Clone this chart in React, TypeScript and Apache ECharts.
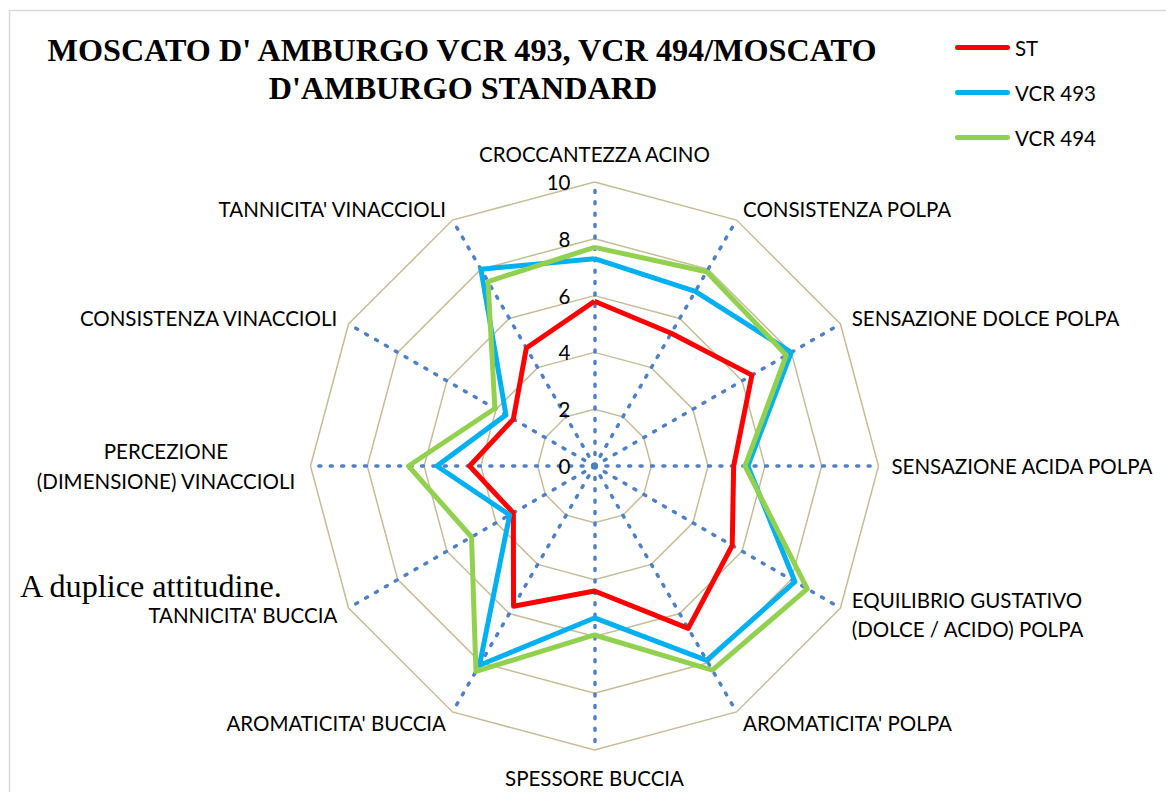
import React, { useEffect, useRef } from 'react';
import * as echarts from 'echarts';

// Axis categories, clockwise from the top (as in the reference)
const categories: string[] = [
  'CROCCANTEZZA ACINO',
  'CONSISTENZA POLPA',
  'SENSAZIONE DOLCE POLPA',
  'SENSAZIONE ACIDA POLPA',
  'EQUILIBRIO GUSTATIVO\n(DOLCE / ACIDO) POLPA',
  "AROMATICITA' POLPA",
  'SPESSORE BUCCIA',
  "AROMATICITA' BUCCIA",
  "TANNICITA' BUCCIA",
  'PERCEZIONE\n(DIMENSIONE) VINACCIOLI',
  'CONSISTENZA VINACCIOLI',
  "TANNICITA' VINACCIOLI",
];

const seriesNames: string[] = ['ST', 'VCR 493', 'VCR 494'];
const seriesColors: string[] = ['#ff0000', '#00b0f0', '#92d050'];

const stValues: number[] = [5.8, 5.4, 6.4, 4.9, 5.6, 6.6, 4.4, 5.7, 3.3, 4.4, 3.3, 4.8];
const vcr493Values: number[] = [7.3, 7.1, 8.0, 5.4, 8.15, 7.9, 5.35, 8.1, 3.45, 5.55, 3.6, 8.0];
const vcr494Values: number[] = [7.7, 7.9, 7.8, 5.3, 8.65, 8.3, 5.95, 8.35, 5.0, 6.55, 4.05, 7.5];

const axisMin = 0;
const axisMax = 10;
const axisSplits = 5; // ticks 0, 2, 4, 6, 8, 10

const titleLines: string[] = ["MOSCATO D' AMBURGO VCR 493, VCR 494/MOSCATO", "D'AMBURGO STANDARD"];
const noteText = 'A duplice attitudine.';

const FONT = 'Lato';

export default function App() {
  const ref = useRef<HTMLDivElement>(null);

  useEffect(() => {
    if (!ref.current) return;
    const chart = echarts.init(ref.current, undefined, { renderer: 'svg' });

    // ECharts places radar indicators counter-clockwise; reorder to get clockwise layout.
    const n = categories.length;
    const order = categories.map((_, i) => (i === 0 ? 0 : n - i));
    const reorder = <T,>(arr: T[]): T[] => order.map((i) => arr[i]);

    const allValues = [stValues, vcr493Values, vcr494Values];

    const capsule = 'path://M2.5,0 L52.5,0 A2.5,2.5 0 0 1 52.5,5 L2.5,5 A2.5,2.5 0 0 1 2.5,0 Z';

    const option: any = {
      animation: false,
      backgroundColor: '#ffffff',
      legend: {
        orient: 'vertical',
        left: 955,
        top: 37,
        padding: 0,
        itemWidth: 55,
        itemHeight: 5,
        itemGap: 24,
        icon: capsule,
        data: seriesNames,
        textStyle: { fontFamily: FONT, fontSize: 20.5, color: '#000000', padding: [0, 0, 0, 0] },
      },
      radar: {
        center: [594.5, 466],
        radius: 284,
        startAngle: 90,
        shape: 'polygon',
        splitNumber: axisSplits,
        nameGap: 13,
        indicator: reorder(categories).map((name, k) => {
          const ind: any = { name, min: axisMin, max: axisMax };
          if (k === 0) {
            ind.axisLabel = {
              show: true,
              color: '#000000',
              fontFamily: FONT,
              fontSize: 20.5,
              margin: 24,
            };
          }
          return ind;
        }),
        axisName: {
          color: '#000000',
          fontFamily: FONT,
          fontSize: 20.5,
          lineHeight: 29.5,
          formatter: (name: string) => {
            if (name === categories[9]) {
              const parts = name.split('\n');
              return parts.map((p) => '{c|' + p + '}').join('\n');
            }
            return name;
          },
          rich: {
            c: {
              width: 263,
              align: 'center',
              color: '#000000',
              fontFamily: FONT,
              fontSize: 20.5,
              lineHeight: 29.5,
            },
          },
        },
        axisLine: { lineStyle: { color: '#4f7fc4', width: 3.5, type: [2, 9.4] } },
        splitLine: { lineStyle: { color: '#c4bd97', width: 1.5 } },
        splitArea: { show: false },
        axisTick: { show: false },
        axisLabel: { show: false },
      },
      graphic: [
        {
          type: 'rect',
          silent: true,
          z: -10,
          shape: { x: 9.5, y: 10.5, width: 1170, height: 800 },
          style: { fill: 'none', stroke: '#d9d9d9', lineWidth: 1.5 },
        },
        {
          type: 'text',
          x: 462,
          y: 50,
          style: {
            text: titleLines[0],
            fontFamily: 'Liberation Serif',
            fontWeight: 'bold',
            fontSize: 32.2,
            fill: '#000000',
            textAlign: 'center',
            textVerticalAlign: 'middle',
          },
        },
        {
          type: 'text',
          x: 463,
          y: 88,
          style: {
            text: titleLines[1],
            fontFamily: 'Liberation Serif',
            fontWeight: 'bold',
            fontSize: 32.2,
            fill: '#000000',
            textAlign: 'center',
            textVerticalAlign: 'middle',
          },
        },
        {
          type: 'text',
          x: 20,
          y: 586,
          style: {
            text: noteText,
            fontFamily: 'Liberation Serif',
            fontSize: 32.2,
            fill: '#000000',
            textAlign: 'left',
            textVerticalAlign: 'middle',
          },
        },
      ],
      series: [
        {
          type: 'radar',
          symbol: 'none',
          data: allValues.map((vals, s) => ({
            name: seriesNames[s],
            value: reorder(vals),
            itemStyle: { color: seriesColors[s] },
            lineStyle: { color: seriesColors[s], width: 5 },
          })),
        },
      ],
    };

    chart.setOption(option);
    return () => chart.dispose();
  }, []);

  return (
    <div
      ref={ref}
      style={{ position: 'absolute', left: 0, top: 0, width: 1166, height: 792 }}
    />
  );
}
